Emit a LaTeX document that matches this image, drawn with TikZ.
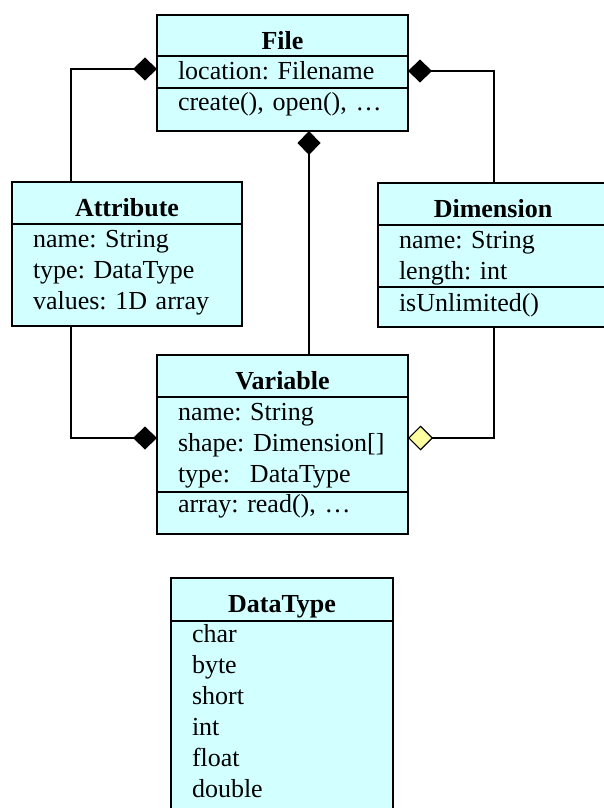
\documentclass[tikz,border=0pt]{standalone}
\usepackage{fontspec}
\setmainfont{Liberation Serif}
\usetikzlibrary{positioning,arrows.meta}
\definecolor{classfill}{RGB}{210,255,255}
\definecolor{aggrfill}{RGB}{255,255,160}

\begin{document}
\begin{tikzpicture}[x=1pt, y=-1pt, node distance=0pt,
                    every node/.style={draw=black, line width=1.3pt, fill=classfill, inner ysep=0pt, outer sep=0pt,
                                       font=\fontsize{26}{31}\selectfont\frenchspacing},
                    class_title/.style={font=\fontsize{26}{31}\selectfont\bfseries, minimum width=#1, inner xsep=0pt},
                    class_list/.style={text width=#1-42pt, inner xsep=21pt, align=left},
                    comp_edge/.style={draw=black, line width=1.2pt, -{Diamond[length=24pt,width=23pt]}},
                    aggr_edge/.style={draw=black, line width=1.2pt, -{Diamond[length=25pt,width=25pt,fill=aggrfill]}}]
                    \useasboundingbox (0,0) rectangle (604,808);
                    \clip (0,0) rectangle (604,808);
                    % File
                    \node[class_title=251pt, anchor=north west, text height=34pt, text depth=7pt] (file_title) at (157,15) {File};
                    \node[class_list=251pt, below=of file_title, text height=23pt, text depth=9pt] (file_attr) {location: Filename};
                    \node[class_list=251pt, below=of file_attr, text height=22pt, text depth=21pt] (file_meth) {create(), open(), …};
                    % Attribute
                    \node[class_title=230pt, anchor=north west, text height=34pt, text depth=8pt] (attr_title) at (12,182) {Attribute};
                    \node[class_list=230pt, below=of attr_title, text height=23pt, text depth=79pt] (attr_list) {name: String\\ type: DataType\\ values: 1D array};
                    % Dimension
                    \node[class_title=230pt, anchor=north west, text height=34pt, text depth=8pt] (dim_title) at (378,183) {Dimension};
                    \node[class_list=230pt, below=of dim_title, text height=23pt, text depth=39pt] (dim_attr) {name: String\\ length: int};
                    \node[class_list=230pt, below=of dim_attr, text height=24pt, text depth=16pt] (dim_meth) {isUnlimited()};
                    % Variable
                    \node[class_title=251pt, anchor=north west, text height=34pt, text depth=8pt] (var_title) at (157,355) {Variable};
                    \node[class_list=251pt, below=of var_title, text height=23pt, text depth=72pt] (var_attr) {name: String\\ shape:~Dimension[]\\ type:\hspace{20pt}DataType};
                    \node[class_list=251pt, below=of var_attr, text height=20pt, text depth=22pt] (var_meth) {array: read(), …};
                    % DataType
                    \node[class_title=222pt, anchor=north west, text height=34pt, text depth=9pt] (dt_title) at (171,578) {DataType};
                    \node[class_list=222pt, below=of dt_title, text height=21pt, text depth=200pt] (dt_list) {char\\ byte\\ short\\ int\\ float\\ double};
                    % connectors
                    \draw[comp_edge] ([xshift=59pt]attr_title.north west) |- ([yshift=3pt]file_attr.west);
                    \draw[comp_edge] ([xshift=116pt]dim_title.north west) |- ([yshift=1pt]file_attr.east);
                    \draw[comp_edge] ([xshift=26.5pt]var_title.north) -- ([xshift=26.5pt]file_meth.south);
                    \draw[comp_edge] ([xshift=59pt]attr_list.south west) |- ([yshift=6.5pt]var_attr.west);
                    \draw[aggr_edge] ([xshift=116pt]dim_meth.south west) |- ([yshift=6.5pt]var_attr.east);
                \end{tikzpicture}
\end{document}
